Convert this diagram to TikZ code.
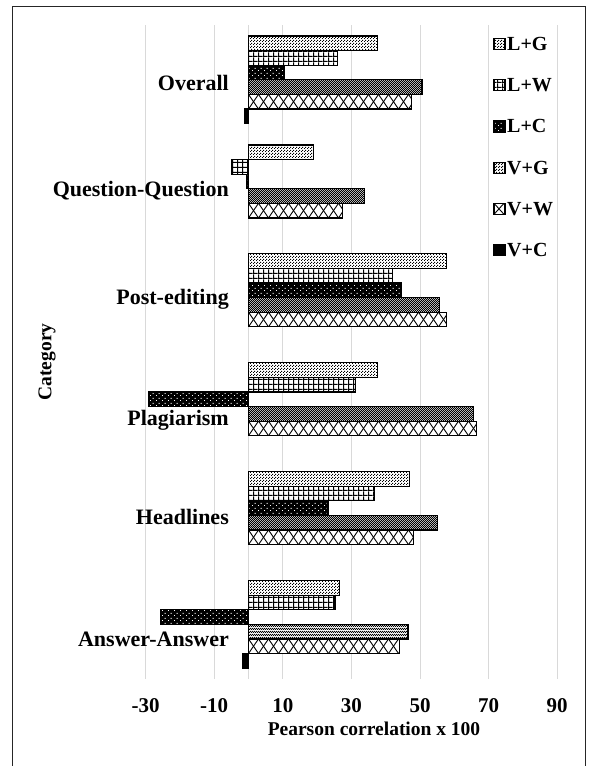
\documentclass[tikz,border=0pt]{standalone}
\usepackage{fontspec}
\setmainfont{Liberation Serif}
\usetikzlibrary{patterns}

% fill patterns of the six series
\pgfdeclarepatternformonly{lgdots}{\pgfpointorigin}{\pgfpoint{2.6pt}{2.6pt}}{\pgfpoint{2.6pt}{2.6pt}}{%
  \pgfpathrectangle{\pgfpoint{0pt}{0pt}}{\pgfpoint{1.1pt}{1.1pt}}%
  \pgfpathrectangle{\pgfpoint{1.3pt}{1.3pt}}{\pgfpoint{1.1pt}{1.1pt}}%
  \pgfusepath{fill}}
\pgfdeclarepatternformonly{lwgrid}{\pgfpointorigin}{\pgfpoint{5.3pt}{5.3pt}}{\pgfpoint{5.3pt}{5.3pt}}{%
  \pgfpathrectangle{\pgfpoint{0pt}{0pt}}{\pgfpoint{5.3pt}{1.2pt}}%
  \pgfpathrectangle{\pgfpoint{0pt}{0pt}}{\pgfpoint{1.2pt}{5.3pt}}%
  \pgfusepath{fill}}
\pgfdeclarepatternformonly{lcdots}{\pgfpointorigin}{\pgfpoint{6pt}{5pt}}{\pgfpoint{6pt}{5pt}}{%
  \pgfpathrectangle{\pgfpoint{0pt}{0pt}}{\pgfpoint{1.1pt}{1.1pt}}%
  \pgfpathrectangle{\pgfpoint{3pt}{2.5pt}}{\pgfpoint{1.1pt}{1.1pt}}%
  \pgfusepath{fill}}
\pgfdeclarepatternformonly{vgcheck}{\pgfpointorigin}{\pgfpoint{2.4pt}{2.4pt}}{\pgfpoint{2.4pt}{2.4pt}}{%
  \pgfpathrectangle{\pgfpoint{0pt}{0pt}}{\pgfpoint{1.3pt}{1.3pt}}%
  \pgfpathrectangle{\pgfpoint{1.2pt}{1.2pt}}{\pgfpoint{1.3pt}{1.3pt}}%
  \pgfusepath{fill}}

\definecolor{gridgray}{RGB}{217,217,217}

\tikzset{
  barline/.style={draw=black, line width=1.2pt},
  serLG/.style={barline, preaction={fill=white}, pattern=lgdots, pattern color=black},
  serLW/.style={barline, preaction={fill=white}, pattern=lwgrid, pattern color=black},
  serLC/.style={barline, preaction={fill=black}, pattern=lcdots, pattern color=white},
  serVG/.style={barline, preaction={fill=white}, pattern=vgcheck, pattern color=black},
  serVC/.style={barline, fill=black},
  latline/.style={black, line width=0.9pt},
  gridline/.style={gridgray, line width=1pt},
  frameline/.style={black!85, line width=1pt},
  catlabel/.style={anchor=east, inner sep=0pt, font=\fontsize{22}{24}\selectfont\bfseries},
  ticklabel/.style={inner sep=0pt, font=\fontsize{21}{24}\selectfont\bfseries},
  axistitle/.style={inner sep=0pt, font=\fontsize{19.5}{24}\selectfont\bfseries},
  legtext/.style={anchor=west, inner sep=0pt, font=\fontsize{20}{24}\selectfont\bfseries},
}

% horizontal bar: category #1, series #2, value #3, style #4
\newcommand\chartbar[4]{%
  \pgfmathsetmacro\barx{248.5+3.43*#3}%
  \pgfmathsetmacro\bary{36+108.9*#1+14.6*#2}%
  \path[#4] (248.5,\bary) rectangle (\barx,\bary+14.6);%
}

% diamond lattice fill between x = #1 and x = #2, top #3, height #4
\newcommand\latticebox[4]{%
  \pgfmathtruncatemacro\latn{abs(#2-#1)/10+1}%
  \fill[white] (#1,#3) rectangle (#2,#3+#4);%
  \begin{scope}
    \clip (#1,#3) rectangle (#2,#3+#4);
    \foreach \k in {0,...,\latn} {
      \draw[latline] ({#1+10*\k},#3) -- ({#1+10*\k+10},#3+#4);
      \draw[latline] ({#1+10*\k+10},#3) -- ({#1+10*\k},#3+#4);
    }
  \end{scope}
  \draw[barline] (#1,#3) rectangle (#2,#3+#4);%
}

% V+W bar of category #1 with value #2
\newcommand\latticebar[2]{%
  \pgfmathsetmacro\barx{248.5+3.43*#2}%
  \pgfmathsetmacro\bary{36+108.9*#1+14.6*4}%
  \latticebox{248.5}{\barx}{\bary}{14.6}%
}

\begin{document}
\begin{tikzpicture}[x=1pt, y=-1pt]
  \useasboundingbox (0,0) rectangle (589,766);
  \fill[white] (0,0) rectangle (589,766);

  % chart frame (open at the bottom edge of the page)
  \draw[frameline] (12,800) -- (12,6) -- (585,6) -- (585,800);

  % vertical gridlines and the category axis
  \foreach \v in {-30,-10,10,30,50,70,90}
    \draw[gridline] ({248.5+3.43*\v},25.3) -- ({248.5+3.43*\v},678.7);
  \draw[gridline] (248.5,25.3) -- (248.5,678.7);

  % bars: 0 Overall, 1 Question-Question, 2 Post-editing,
  %       3 Plagiarism, 4 Headlines, 5 Answer-Answer
  \chartbar{0}{0}{37.7}{serLG}
  \chartbar{0}{1}{25.9}{serLW}
  \chartbar{0}{2}{10.6}{serLC}
  \chartbar{0}{3}{50.6}{serVG}
  \latticebar{0}{47.6}
  \chartbar{0}{5}{-1.2}{serVC}

  \chartbar{1}{0}{19.0}{serLG}
  \chartbar{1}{1}{-5.0}{serLW}
  \chartbar{1}{2}{-0.6}{serLC}
  \chartbar{1}{3}{33.9}{serVG}
  \latticebar{1}{27.3}

  \chartbar{2}{0}{57.8}{serLG}
  \chartbar{2}{1}{41.9}{serLW}
  \chartbar{2}{2}{44.6}{serLC}
  \chartbar{2}{3}{55.8}{serVG}
  \latticebar{2}{57.8}

  \chartbar{3}{0}{37.6}{serLG}
  \chartbar{3}{1}{31.1}{serLW}
  \chartbar{3}{2}{-29.2}{serLC}
  \chartbar{3}{3}{65.6}{serVG}
  \latticebar{3}{66.4}

  \chartbar{4}{0}{47.0}{serLG}
  \chartbar{4}{1}{36.8}{serLW}
  \chartbar{4}{2}{23.2}{serLC}
  \chartbar{4}{3}{55.2}{serVG}
  \latticebar{4}{48.0}

  \chartbar{5}{0}{26.5}{serLG}
  \chartbar{5}{1}{25.2}{serLW}
  \chartbar{5}{2}{-25.5}{serLC}
  \chartbar{5}{3}{46.5}{serVG}
  \latticebar{5}{44.0}
  \chartbar{5}{5}{-1.7}{serVC}

  % category labels
  \node[catlabel] (catOverall)  at (229,82.5)  {Overall};
  \node[catlabel] (catQuestion) at (229,190.5) {Question-Question};
  \node[catlabel] (catPost)     at (229,299.5) {Post-editing};
  \node[catlabel] (catPlag)     at (229,420)   {Plagiarism};
  \node[catlabel] (catHead)     at (229,517)   {Headlines};
  \node[catlabel] (catAnswer)   at (229,639)   {Answer-Answer};

  % value axis labels
  \foreach \v [count=\i] in {-30,-10,10,30,50,70,90}
    \node[ticklabel] (tick\i) at ({248.5+3.43*\v},706) {\v};

  % axis titles
  \node[axistitle] (xtitle) at (374,729) {Pearson correlation x 100};
  \node[axistitle, rotate=90] (ytitle) at (47,362) {Category};

  % legend
  \path[serLG] (494,38.5) rectangle (505,49.5);
  \node[legtext] (legLG) at (507,44) {L+G};
  \path[serLW] (494,79.7) rectangle (505,90.7);
  \node[legtext] (legLW) at (507,85.2) {L+W};
  \path[serLC] (494,120.9) rectangle (505,131.9);
  \node[legtext] (legLC) at (507,126.4) {L+C};
  \path[serVG] (494,162.1) rectangle (505,173.1);
  \node[legtext] (legVG) at (507,167.6) {V+G};
  \latticebox{494}{505}{203.3}{11}
  \node[legtext] (legVW) at (507,208.8) {V+W};
  \path[serVC] (494,244.5) rectangle (505,255.5);
  \node[legtext] (legVC) at (507,250) {V+C};
\end{tikzpicture}
\end{document}
